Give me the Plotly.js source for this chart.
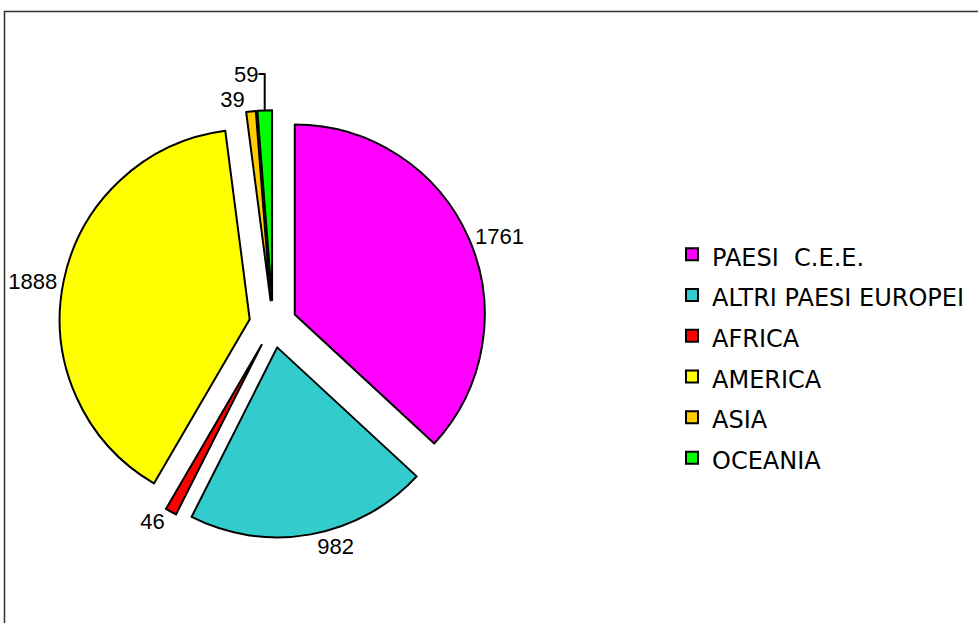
<!DOCTYPE html>
<html>
<head>
<meta charset="utf-8">
<script src="https://cdn.plot.ly/plotly-3.0.1.min.js"></script>
<style>
  html, body { margin: 0; padding: 0; background: #ffffff; }
  #chart { width: 978px; height: 623px; }
</style>
</head>
<body>
<div id="chart"></div>
<script>
// Data
const categories = ["PAESI  C.E.E.", "ALTRI PAESI EUROPEI", "AFRICA", "AMERICA", "ASIA", "OCEANIA"];
const values = [1761, 982, 46, 1888, 39, 59];
const colors = ["#FF00FF", "#33CCCC", "#FF0000", "#FFFF00", "#FFCC00", "#00FF00"];
const pulls = [0.125, 0.125, 0.125, 0.125, 0.125, 0.125];

const W = 978, H = 623;
// pie placement (pixels): centre and radius
const CX = 273, CY = 324, R = 190;
const HALF = R * 1.125;

const trace = {
  type: "pie",
  labels: categories.map(c => '<span style="font-size:24px">' + c + '</span>'),
  values: values,
  sort: false,
  direction: "clockwise",
  rotation: 0,
  pull: pulls,
  marker: { colors: colors, line: { color: "#000000", width: 2 } },
  textinfo: "value",
  textposition: "outside",
  outsidetextfont: { family: "Liberation Sans, Arial, sans-serif", size: 22, color: "#000000" },
  domain: { x: [(CX - HALF) / W, (CX + HALF) / W], y: [1 - (CY + HALF) / H, 1 - (CY - HALF) / H] },
  hoverinfo: "label+value+percent"
};

const layout = {
  width: W,
  height: H,
  margin: { l: 0, r: 0, t: 0, b: 0 },
  paper_bgcolor: "#ffffff",
  showlegend: true,
  legend: {
    x: 672 / W,
    xanchor: "left",
    y: 1 - 229 / H,
    yanchor: "top",
    font: { family: "DejaVu Sans, sans-serif", size: 29, color: "#000000" },
    bgcolor: "rgba(0,0,0,0)",
    borderwidth: 0
  },
  shapes: [{
    type: "rect",
    xref: "paper", yref: "paper",
    x0: 4.5 / W, x1: 1.02,
    y0: -0.02, y1: 1 - 11.5 / H,
    line: { color: "#333333", width: 1.5 },
    fillcolor: "rgba(0,0,0,0)",
    layer: "below"
  }]
};

Plotly.newPlot("chart", [trace], layout, { displayModeBar: false, staticPlot: true });
</script>
</body>
</html>
